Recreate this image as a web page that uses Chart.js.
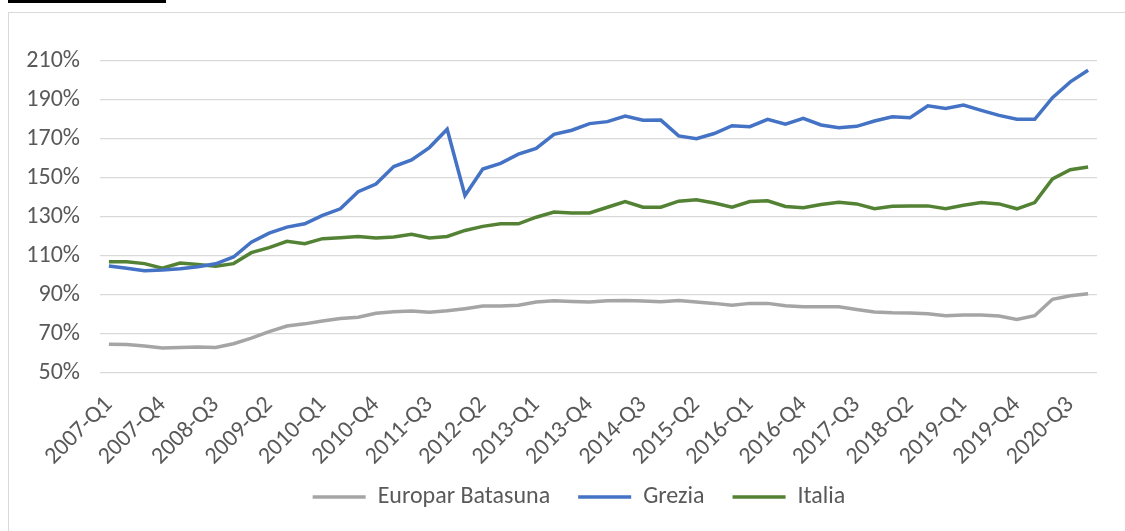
<!DOCTYPE html>
<html>
<head>
<meta charset="utf-8">
<script src="https://cdn.jsdelivr.net/npm/chart.js@4.4.0/dist/chart.umd.min.js"></script>
<style>
    html, body { margin: 0; padding: 0; background: #fff; overflow: hidden; width: 1125px; height: 531px; }
    #taglio { position: absolute; left: 8px; top: 0; width: 158px; height: 3px; background: #000; }
    #cornice { position: absolute; left: 8px; top: 12px; width: 1130px; height: 530px; border: 1px solid #d9d9d9; }
    #contenitore { position: absolute; left: 9px; top: 13px; width: 1116px; height: 518px; }
</style>
</head>
<body>
<div id="taglio"></div>
<div id="cornice"></div>
<div id="contenitore"><canvas id="debitoChart"></canvas></div>
<script>
// Trimestri (asse X)
const trimestri = [
    '2007-Q1', '2007-Q2', '2007-Q3', '2007-Q4', '2008-Q1', '2008-Q2', '2008-Q3', '2008-Q4',
    '2009-Q1', '2009-Q2', '2009-Q3', '2009-Q4', '2010-Q1', '2010-Q2', '2010-Q3', '2010-Q4',
    '2011-Q1', '2011-Q2', '2011-Q3', '2011-Q4', '2012-Q1', '2012-Q2', '2012-Q3', '2012-Q4',
    '2013-Q1', '2013-Q2', '2013-Q3', '2013-Q4', '2014-Q1', '2014-Q2', '2014-Q3', '2014-Q4',
    '2015-Q1', '2015-Q2', '2015-Q3', '2015-Q4', '2016-Q1', '2016-Q2', '2016-Q3', '2016-Q4',
    '2017-Q1', '2017-Q2', '2017-Q3', '2017-Q4', '2018-Q1', '2018-Q2', '2018-Q3', '2018-Q4',
    '2019-Q1', '2019-Q2', '2019-Q3', '2019-Q4', '2020-Q1', '2020-Q2', '2020-Q3', '2020-Q4'
];

// Valori in percentuale
const europar = [
    64.8, 64.6, 63.9, 62.8, 63.1, 63.3, 63.1, 65.0, 67.9, 71.2,
    74.1, 75.2, 76.7, 77.9, 78.6, 80.6, 81.4, 81.8, 81.2, 81.9,
    83.0, 84.3, 84.3, 84.7, 86.4, 87.0, 86.7, 86.4, 87.0, 87.2,
    86.9, 86.5, 87.2, 86.4, 85.7, 84.7, 85.7, 85.7, 84.5, 84.0,
    84.0, 84.0, 82.6, 81.3, 80.9, 80.8, 80.4, 79.4, 79.7, 79.7,
    79.2, 77.5, 79.4, 87.8, 89.6, 90.6
];
const grezia = [
    104.9, 103.7, 102.4, 102.8, 103.5, 104.5, 106.0, 109.5, 117.1, 121.7,
    124.8, 126.5, 130.8, 134.2, 143.0, 146.9, 155.9, 159.3, 165.6, 175.0,
    141.0, 154.6, 157.5, 162.2, 165.2, 172.4, 174.5, 177.9, 178.9, 181.8,
    179.6, 179.7, 171.6, 170.2, 172.8, 176.8, 176.3, 180.1, 177.6, 180.6,
    177.2, 175.8, 176.5, 179.2, 181.4, 180.9, 187.0, 185.7, 187.4, 184.7,
    182.1, 180.1, 180.1, 191.2, 199.3, 205.3
];
const italia = [
    107.1, 107.1, 106.1, 103.7, 106.4, 105.6, 104.7, 106.1, 111.7, 114.3,
    117.5, 116.3, 118.9, 119.4, 120.0, 119.2, 119.7, 121.1, 119.2, 120.0,
    123.1, 125.2, 126.5, 126.5, 129.9, 132.5, 132.1, 132.1, 135.0, 137.9,
    135.0, 135.0, 138.1, 138.8, 137.2, 135.0, 137.9, 138.3, 135.4, 134.7,
    136.4, 137.6, 136.7, 134.2, 135.5, 135.7, 135.7, 134.3, 136.0, 137.4,
    136.7, 134.2, 137.4, 149.5, 154.2, 155.6
];

// Scala Y
const yMin = 50;
const yMax = 210;
const yPasso = 20;
const intervalloEtichette = 3;

const testo = '#595959';
const carattere = { family: 'Carlito, Lato, "Open Sans", sans-serif', size: 24 };
const paddingLegenda = 28;

// sposta la legenda dove sta nell'originale
const spostaLegenda = {
    id: 'spostaLegenda',
    afterLayout: function (chart) {
        const lg = chart.legend;
        if (!lg) return;
        const dy = 444 - lg.top;
        lg.top += dy;
        lg.bottom += dy;
        lg.left += 26;
        lg.right += 26;
    }
};

new Chart(document.getElementById('debitoChart').getContext('2d'), {
    type: 'line',
    data: {
        labels: trimestri,
        datasets: [
            {
                label: 'Europar Batasuna',
                data: europar,
                borderColor: '#a5a5a5',
                backgroundColor: '#a5a5a5',
                borderWidth: 3.5,
                pointRadius: 0,
                tension: 0
            },
            {
                label: 'Grezia',
                data: grezia,
                borderColor: '#4472c4',
                backgroundColor: '#4472c4',
                borderWidth: 3.5,
                pointRadius: 0,
                tension: 0
            },
            {
                label: 'Italia',
                data: italia,
                borderColor: '#548235',
                backgroundColor: '#548235',
                borderWidth: 3.5,
                pointRadius: 0,
                tension: 0
            }
        ]
    },
    options: {
        responsive: true,
        maintainAspectRatio: false,
        animation: false,
        layout: { padding: { top: 48, right: 28, bottom: 0, left: 0 } },
        scales: {
            x: {
                offset: true,
                grid: { display: false },
                border: { display: false },
                ticks: {
                    autoSkip: false,
                    minRotation: 45,
                    maxRotation: 45,
                    padding: 10,
                    color: testo,
                    font: carattere,
                    callback: function (value, index) {
                        return index % intervalloEtichette === 0 ? trimestri[index] : '';
                    }
                },
                afterFit: function (scale) {
                    const lg = scale.chart.legend;
                    const hLeg = lg ? lg.height : 0;
                    scale.height = Math.max(10, 518 - hLeg - 360);
                }
            },
            y: {
                min: yMin,
                max: yMax,
                grid: { color: '#d9d9d9', lineWidth: 1.3, drawTicks: false },
                border: { display: false },
                ticks: {
                    stepSize: yPasso,
                    padding: 20,
                    color: testo,
                    font: carattere,
                    callback: function (value) {
                        return value + '%';
                    }
                },
                afterFit: function (scale) { scale.width = 91; }
            }
        },
        plugins: {
            legend: {
                position: 'bottom',
                labels: {
                    usePointStyle: true,
                    pointStyle: 'line',
                    pointStyleWidth: 53,
                    padding: paddingLegenda,
                    color: testo,
                    font: carattere
                }
            },
            tooltip: { enabled: false }
        }
    },
    plugins: [spostaLegenda]
});
</script>
</body>
</html>
